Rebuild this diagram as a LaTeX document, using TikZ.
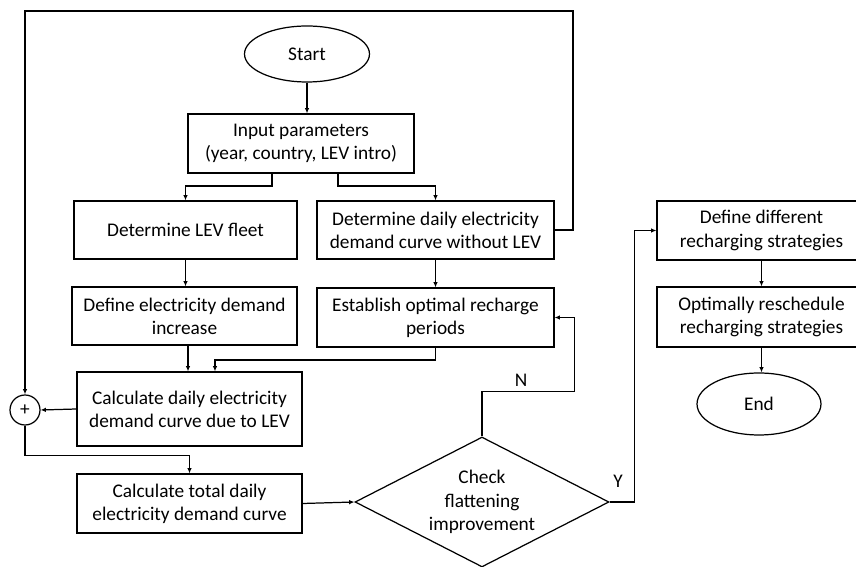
\documentclass[tikz,border=0pt]{standalone}
\usepackage{fontspec}
\setmainfont{Carlito}
\usepackage{tikz}
\usetikzlibrary{positioning,shapes.geometric,arrows.meta}

\tikzset{
  box/.style={draw, line width=0.7pt, align=center, inner sep=2pt},
  term/.style={draw, line width=0.7pt, ellipse, inner sep=0pt},
  arr/.style={-{Latex[length=3pt,width=2.6pt]}, line width=0.7pt},
  lin/.style={line width=0.7pt}
}

\begin{document}
\begin{tikzpicture}[x=0.02cm, y=-0.02cm, font=\fontsize{11}{13.2}\selectfont]
  \useasboundingbox (0,0) rectangle (856,567);
  % start and input
  \node[term, minimum width=2.5cm, minimum height=1.12cm] at(307,54)(start){Start};
  \node[box, minimum width=4.52cm, minimum height=1.18cm] at(301,143.5)(input){Input parameters\\(year, country, LEV intro)};
  % left column
  \node[box, minimum width=4.46cm, minimum height=1.16cm] at(185.5,230)(fleet){Determine LEV fleet};
  \node[box, minimum width=4.5cm, minimum height=1.16cm] at(184.5,316)(increase){Define electricity demand\\increase};
  \node[box, minimum width=4.5cm, minimum height=1.48cm] at(189.5,409)(levcurve){Calculate daily electricity\\demand curve due to LEV};
  \node[box, minimum width=4.5cm, minimum height=1.18cm] at(189.5,503.5)(total){Calculate total daily\\electricity demand curve};
  \node[draw, circle, line width=0.7pt, minimum size=0.6cm, inner sep=0pt] at(25,410)(sum){+};
  % right column
  \node[box, minimum width=4.74cm, minimum height=1.16cm] at(435.5,230)(base){Determine daily electricity\\demand curve without LEV};
  \node[box, minimum width=4.74cm, minimum height=1.18cm] at(435.5,317.5)(optimal){Establish optimal recharge\\periods};
  % decision
  \node[draw, diamond, aspect=2, line width=0.7pt, inner sep=0pt, align=center,
        minimum width=5.08cm, minimum height=2.6cm] at(482,502)(check){Check\\flattening\\improvement};
  % strategies
  \node[box, minimum width=4.18cm, minimum height=1.18cm] at(761.5,230.5)(defstrat){Define different\\recharging strategies};
  \node[box, minimum width=4.18cm, minimum height=1.2cm] at(761.5,317)(resched){Optimally reschedule\\recharging strategies};
  \node[term, minimum width=2.48cm, minimum height=1.24cm] at(759,404)(end){End};
  % labels
  \node at(521,380)(nlabel){N};
  \node at(618,481)(ylabel){Y};
  % loop corners
  \coordinate (loopr) at(573,11);
  \coordinate (loopl) at(25,11);
  % connectors
  \draw[arr] (start.south) -- (start.south |- input.north);
  \draw[arr] ([xshift=-0.58cm]input.south) -- ++(0,12.5) -| (fleet.north);
  \draw[arr] ([xshift=0.74cm]input.south) -- ++(0,12.5) -| (base.north);
  \draw[arr] (fleet.south) -- (fleet.south |- increase.north);
  \draw[arr] (base.south) -- (base.south |- optimal.north);
  \draw[arr] ([xshift=0.07cm]increase.south) -- ([xshift=0.07cm]increase.south |- levcurve.north);
  \draw[arr] (optimal.south) -- ++(0,12.5) -| ([xshift=0.51cm]levcurve.north);
  \draw[arr] (base.east) -| (loopr) -- (loopl) -- (sum.north);
  \draw[arr] (levcurve.west) -- (sum.east);
  \draw[arr] (sum.south) -- ++(0,30) -| (total.north);
  \draw[arr] (total.east) -- (check.west);
  \draw[arr] (check.north) -- ++(0,-45) -| ([xshift=0.4cm]optimal.east) -- (optimal.east);
  \draw[arr] (check.east) -- ++(25,0) |- (defstrat.west);
  \draw[arr] (defstrat.south) -- (resched.north);
  \draw[arr] (resched.south) -- (resched.south |- end.north);
\end{tikzpicture}
\end{document}
